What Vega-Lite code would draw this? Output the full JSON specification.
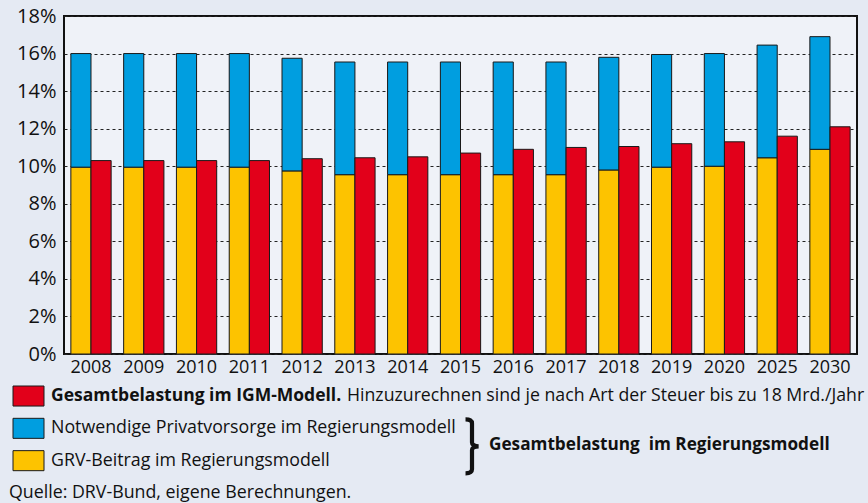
{
  "$schema": "https://vega.github.io/schema/vega-lite/v6.json",
  "background": "#e5eaf3",
  "padding": {"left": 0, "top": 5, "right": 0, "bottom": 0},
  "spacing": 8,
  "config": {"font": "Open Sans", "view": {"stroke": null}},
  "datasets": {
    "bars": [
      {"year": "2008", "model": "Regierung", "part": "GRV", "value": 9.95},
      {"year": "2008", "model": "Regierung", "part": "Privat", "value": 6.05},
      {"year": "2008", "model": "IGM", "part": "IGM", "value": 10.3},
      {"year": "2009", "model": "Regierung", "part": "GRV", "value": 9.95},
      {"year": "2009", "model": "Regierung", "part": "Privat", "value": 6.05},
      {"year": "2009", "model": "IGM", "part": "IGM", "value": 10.3},
      {"year": "2010", "model": "Regierung", "part": "GRV", "value": 9.95},
      {"year": "2010", "model": "Regierung", "part": "Privat", "value": 6.05},
      {"year": "2010", "model": "IGM", "part": "IGM", "value": 10.3},
      {"year": "2011", "model": "Regierung", "part": "GRV", "value": 9.95},
      {"year": "2011", "model": "Regierung", "part": "Privat", "value": 6.05},
      {"year": "2011", "model": "IGM", "part": "IGM", "value": 10.3},
      {"year": "2012", "model": "Regierung", "part": "GRV", "value": 9.75},
      {"year": "2012", "model": "Regierung", "part": "Privat", "value": 6.0},
      {"year": "2012", "model": "IGM", "part": "IGM", "value": 10.4},
      {"year": "2013", "model": "Regierung", "part": "GRV", "value": 9.55},
      {"year": "2013", "model": "Regierung", "part": "Privat", "value": 6.0},
      {"year": "2013", "model": "IGM", "part": "IGM", "value": 10.45},
      {"year": "2014", "model": "Regierung", "part": "GRV", "value": 9.55},
      {"year": "2014", "model": "Regierung", "part": "Privat", "value": 6.0},
      {"year": "2014", "model": "IGM", "part": "IGM", "value": 10.5},
      {"year": "2015", "model": "Regierung", "part": "GRV", "value": 9.55},
      {"year": "2015", "model": "Regierung", "part": "Privat", "value": 6.0},
      {"year": "2015", "model": "IGM", "part": "IGM", "value": 10.7},
      {"year": "2016", "model": "Regierung", "part": "GRV", "value": 9.55},
      {"year": "2016", "model": "Regierung", "part": "Privat", "value": 6.0},
      {"year": "2016", "model": "IGM", "part": "IGM", "value": 10.9},
      {"year": "2017", "model": "Regierung", "part": "GRV", "value": 9.55},
      {"year": "2017", "model": "Regierung", "part": "Privat", "value": 6.0},
      {"year": "2017", "model": "IGM", "part": "IGM", "value": 11.0},
      {"year": "2018", "model": "Regierung", "part": "GRV", "value": 9.8},
      {"year": "2018", "model": "Regierung", "part": "Privat", "value": 6.0},
      {"year": "2018", "model": "IGM", "part": "IGM", "value": 11.05},
      {"year": "2019", "model": "Regierung", "part": "GRV", "value": 9.95},
      {"year": "2019", "model": "Regierung", "part": "Privat", "value": 6.0},
      {"year": "2019", "model": "IGM", "part": "IGM", "value": 11.2},
      {"year": "2020", "model": "Regierung", "part": "GRV", "value": 10.0},
      {"year": "2020", "model": "Regierung", "part": "Privat", "value": 6.0},
      {"year": "2020", "model": "IGM", "part": "IGM", "value": 11.3},
      {"year": "2025", "model": "Regierung", "part": "GRV", "value": 10.45},
      {"year": "2025", "model": "Regierung", "part": "Privat", "value": 6.0},
      {"year": "2025", "model": "IGM", "part": "IGM", "value": 11.6},
      {"year": "2030", "model": "Regierung", "part": "GRV", "value": 10.9},
      {"year": "2030", "model": "Regierung", "part": "Privat", "value": 6.0},
      {"year": "2030", "model": "IGM", "part": "IGM", "value": 12.1}
    ],
    "legend": [
      {"item": "IGM", "part": "IGM", "head": "Gesamtbelastung im IGM-Modell.", "label": "Hinzuzurechnen sind je nach Art der Steuer bis zu 18 Mrd./Jahr"},
      {"item": "Privat", "part": "Privat", "label": "Notwendige Privatvorsorge im Regierungsmodell"},
      {"item": "GRV", "part": "GRV", "label": "GRV-Beitrag im Regierungsmodell"}
    ],
    "notes": [
      {"item": "Privat", "kind": "brace", "label": "}"},
      {"item": "Privat", "kind": "total", "label": "Gesamtbelastung\u00a0 im Regierungsmodell"},
      {"item": "Quelle", "kind": "source", "label": "Quelle: DRV-Bund, eigene Berechnungen."}
    ]
  },
  "vconcat": [
    {
      "width": 793,
      "height": 338,
      "view": {"fill": "#eff2f8", "stroke": "#111111", "strokeWidth": 2},
      "data": {"name": "bars"},
      "encoding": {
        "x": {
          "field": "year", "type": "ordinal", "sort": null,
          "scale": {"paddingInner": 0.237, "paddingOuter": 0.13},
          "axis": {"title": null, "labelAngle": 0, "ticks": false, "domain": false, "grid": false, "labelFontSize": 18, "labelPadding": 4, "labelColor": "#111111"}
        },
        "xOffset": {"field": "model", "type": "nominal", "sort": ["Regierung", "IGM"], "scale": {"paddingInner": 0, "paddingOuter": 0}},
        "y": {
          "field": "value", "type": "quantitative", "stack": "zero",
          "scale": {"domain": [0, 18], "nice": false},
          "axis": {"title": null, "values": [0, 2, 4, 6, 8, 10, 12, 14, 16, 18], "labelExpr": "datum.value + '%'", "ticks": false, "domain": false, "grid": true, "gridDash": [3, 3], "gridColor": "#222222", "gridWidth": 1.2, "labelFontSize": 20, "labelPadding": 8, "labelColor": "#111111", "minExtent": 63, "maxExtent": 63}
        },
        "detail": {"field": "part"},
        "order": {"field": "part", "sort": "ascending"}
      },
      "layer": [
        {
          "mark": {"type": "bar", "color": "#5d626b", "opacity": 0.5, "xOffset": 2, "yOffset": 1}
        },
        {
          "mark": {"type": "bar", "stroke": "#1a1a1a", "strokeWidth": 1},
          "encoding": {
            "color": {"field": "part", "type": "nominal", "scale": {"domain": ["IGM", "Privat", "GRV"], "range": ["#e2001a", "#009ee0", "#fdc300"]}, "legend": null}
          }
        }
      ]
    },
    {
      "width": 805,
      "height": 117,
      "view": {"stroke": null},
      "layer": [
        {
          "data": {"name": "legend"},
          "mark": {"type": "rect", "stroke": "#1a1a1a", "strokeWidth": 1},
          "encoding": {
            "x": {"datum": 12, "type": "quantitative", "scale": {"domain": [63, 868], "nice": false, "zero": false}, "axis": null},
            "x2": {"datum": 43},
            "y": {"field": "item", "type": "nominal", "scale": {"domain": ["IGM", "Privat", "GRV", "Quelle"], "paddingInner": 0.38, "paddingOuter": 0}, "axis": null},
            "color": {"field": "part", "type": "nominal", "scale": {"domain": ["IGM", "Privat", "GRV"], "range": ["#e3302b", "#009ee0", "#fdc300"]}, "legend": null}
          }
        },
        {
          "data": {"name": "legend"},
          "transform": [{"filter": "datum.head != null"}],
          "mark": {"type": "text", "align": "left", "baseline": "middle", "fontSize": 17.5, "fontWeight": "bold", "color": "#111111"},
          "encoding": {
            "x": {"datum": 50, "type": "quantitative"},
            "y": {"field": "item", "type": "nominal"},
            "text": {"field": "head"}
          }
        },
        {
          "data": {"name": "legend"},
          "transform": [{"filter": "datum.item == 'IGM'"}],
          "mark": {"type": "text", "align": "left", "baseline": "middle", "fontSize": 17.7, "color": "#111111"},
          "encoding": {
            "x": {"datum": 346, "type": "quantitative"},
            "y": {"field": "item", "type": "nominal"},
            "text": {"field": "label"}
          }
        },
        {
          "data": {"name": "legend"},
          "transform": [{"filter": "datum.item != 'IGM'"}],
          "mark": {"type": "text", "align": "left", "baseline": "middle", "fontSize": 17.8, "color": "#111111"},
          "encoding": {
            "x": {"datum": 50, "type": "quantitative"},
            "y": {"field": "item", "type": "nominal"},
            "text": {"field": "label"}
          }
        },
        {
          "data": {"name": "notes"},
          "transform": [{"filter": "datum.kind == 'brace'"}],
          "mark": {"type": "point", "shape": "M-0.24,-1Q0,-1 0,-0.85L0,-0.14Q0,-0.02 0.24,0Q0,0.02 0,0.14L0,0.85Q0,1 -0.24,1", "size": 2916, "filled": false, "stroke": "#111111", "strokeWidth": 4.2, "opacity": 1, "yOffset": 18},
          "encoding": {
            "x": {"datum": 471, "type": "quantitative"},
            "y": {"field": "item", "type": "nominal"}
          }
        },
        {
          "data": {"name": "notes"},
          "transform": [{"filter": "datum.kind == 'total'"}],
          "mark": {"type": "text", "align": "left", "baseline": "middle", "fontSize": 17.2, "fontWeight": "bold", "dy": 17, "color": "#111111"},
          "encoding": {
            "x": {"datum": 488, "type": "quantitative"},
            "y": {"field": "item", "type": "nominal"},
            "text": {"field": "label"}
          }
        },
        {
          "data": {"name": "notes"},
          "transform": [{"filter": "datum.kind == 'source'"}],
          "mark": {"type": "text", "align": "left", "baseline": "middle", "fontSize": 17.8, "color": "#111111"},
          "encoding": {
            "x": {"datum": 8, "type": "quantitative"},
            "y": {"field": "item", "type": "nominal"},
            "text": {"field": "label"}
          }
        }
      ]
    }
  ]
}
